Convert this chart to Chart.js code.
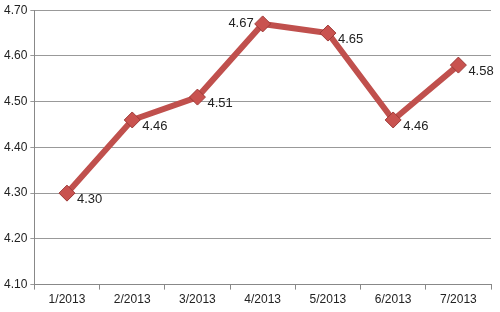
<!DOCTYPE html>
<html>
<head>
<meta charset="utf-8">
<script src="https://cdn.jsdelivr.net/npm/chart.js@4/dist/chart.umd.min.js"></script>
<style>
  html, body { margin: 0; padding: 0; background: #fff; }
</style>
</head>
<body>
<canvas id="myChart" width="500" height="312"></canvas>
<script>
const months = ['1/2013', '2/2013', '3/2013', '4/2013', '5/2013', '6/2013', '7/2013'];
const values = [4.30, 4.46, 4.51, 4.67, 4.65, 4.46, 4.58];
// which side each value label sits on
const labelSide = ['right', 'right', 'right', 'left', 'right', 'right', 'right'];

// draws the value next to each marker
const valueLabels = {
    id: 'valueLabels',
    afterDatasetsDraw(chart) {
        const ctx = chart.ctx;
        const meta = chart.getDatasetMeta(0);
        ctx.save();
        ctx.font = '13px "Liberation Sans", Arial, sans-serif';
        ctx.fillStyle = '#222';
        ctx.textBaseline = 'middle';
        meta.data.forEach((pt, i) => {
            const txt = values[i].toFixed(2);
            if (labelSide[i] === 'left') {
                ctx.textAlign = 'right';
                ctx.fillText(txt, pt.x - 9, pt.y);
            } else {
                ctx.textAlign = 'left';
                ctx.fillText(txt, pt.x + 10, pt.y + 6);
            }
        });
        ctx.restore();
    }
};

Chart.defaults.font.family = '"Liberation Sans", Arial, sans-serif';
Chart.defaults.font.size = 12;
Chart.defaults.color = '#222';

new Chart(document.getElementById('myChart'), {
    type: 'line',
    data: {
        labels: months,
        datasets: [{
            data: values,
            borderColor: '#c0504d',
            borderWidth: 6,
            backgroundColor: '#c0504d',
            pointStyle: 'rectRot',
            pointRadius: 8,
            pointBorderColor: '#9e3a38',
            pointBorderWidth: 1,
            pointBackgroundColor: '#c9524f',
            tension: 0
        }]
    },
    options: {
        responsive: false,
        animation: false,
        layout: { padding: { top: 2, right: 7, left: 1, bottom: 2 } },
        plugins: {
            legend: { display: false },
            tooltip: { enabled: false }
        },
        scales: {
            x: {
                offset: true,
                grid: {
                    offset: true,
                    drawOnChartArea: false,
                    drawTicks: true,
                    tickLength: 5,
                    color: '#888'
                },
                border: { color: '#888' },
                ticks: { padding: 3, maxRotation: 0 }
            },
            y: {
                min: 4.1,
                max: 4.7,
                ticks: {
                    stepSize: 0.1,
                    padding: 3,
                    callback: v => v.toFixed(2)
                },
                grid: {
                    color: '#999',
                    tickLength: 4
                },
                border: { color: '#888' }
            }
        }
    },
    plugins: [valueLabels]
});
</script>
</body>
</html>
